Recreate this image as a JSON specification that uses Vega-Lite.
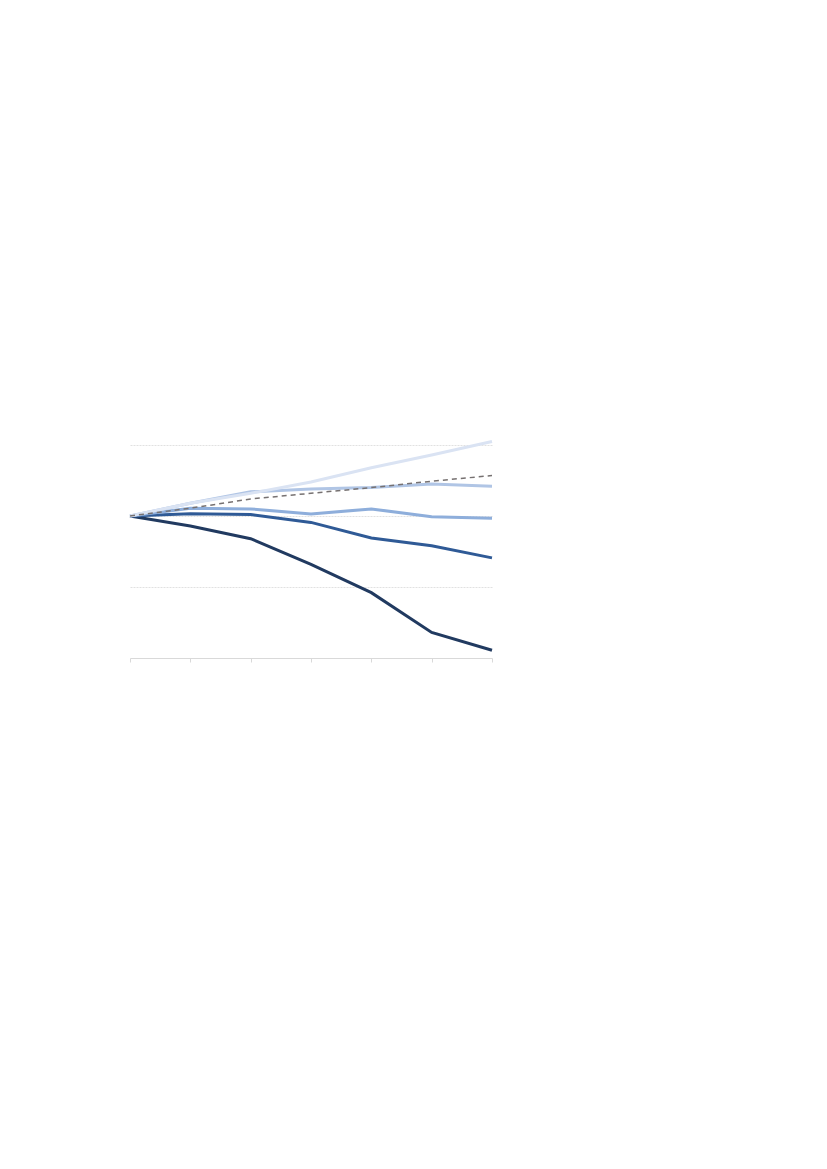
{
  "$schema": "https://vega.github.io/schema/vega-lite/v6.json",
  "width": 362,
  "height": 213,
  "autosize": {"type": "none"},
  "padding": {"left": 130, "top": 445, "right": 335, "bottom": 511},
  "background": "white",
  "config": {"view": {"stroke": null}},
  "data": {
    "values": [
      {"x": 0, "series": "s1", "v": 100}, {"x": 1, "series": "s1", "v": 98.6}, {"x": 2, "series": "s1", "v": 96.8}, {"x": 3, "series": "s1", "v": 93.2}, {"x": 4, "series": "s1", "v": 89.2}, {"x": 5, "series": "s1", "v": 83.6}, {"x": 6, "series": "s1", "v": 81.1},
      {"x": 0, "series": "s2", "v": 100}, {"x": 1, "series": "s2", "v": 100.3}, {"x": 2, "series": "s2", "v": 100.2}, {"x": 3, "series": "s2", "v": 99.1}, {"x": 4, "series": "s2", "v": 96.9}, {"x": 5, "series": "s2", "v": 95.8}, {"x": 6, "series": "s2", "v": 94.1},
      {"x": 0, "series": "s3", "v": 100}, {"x": 1, "series": "s3", "v": 101.1}, {"x": 2, "series": "s3", "v": 101.0}, {"x": 3, "series": "s3", "v": 100.3}, {"x": 4, "series": "s3", "v": 101.0}, {"x": 5, "series": "s3", "v": 99.9}, {"x": 6, "series": "s3", "v": 99.7},
      {"x": 0, "series": "s4", "v": 100}, {"x": 1, "series": "s4", "v": 101.8}, {"x": 2, "series": "s4", "v": 103.4}, {"x": 3, "series": "s4", "v": 103.8}, {"x": 4, "series": "s4", "v": 104.0}, {"x": 5, "series": "s4", "v": 104.5}, {"x": 6, "series": "s4", "v": 104.2},
      {"x": 0, "series": "s5", "v": 100}, {"x": 1, "series": "s5", "v": 101.8}, {"x": 2, "series": "s5", "v": 103.2}, {"x": 3, "series": "s5", "v": 104.8}, {"x": 4, "series": "s5", "v": 106.8}, {"x": 5, "series": "s5", "v": 108.6}, {"x": 6, "series": "s5", "v": 110.5},
      {"x": 0, "series": "avg", "v": 100}, {"x": 1, "series": "avg", "v": 101.1}, {"x": 2, "series": "avg", "v": 102.4}, {"x": 3, "series": "avg", "v": 103.2}, {"x": 4, "series": "avg", "v": 104.0}, {"x": 5, "series": "avg", "v": 104.9}, {"x": 6, "series": "avg", "v": 105.7}
    ]
  },
  "encoding": {
    "x": {
      "field": "x",
      "type": "quantitative",
      "scale": {"domain": [0, 6], "nice": false, "zero": false},
      "axis": {
        "title": null,
        "labels": false,
        "grid": false,
        "values": [0, 1, 2, 3, 4, 5, 6],
        "domainColor": "#d9d9d9",
        "tickColor": "#d9d9d9",
        "tickSize": 4,
        "domainWidth": 1
      }
    },
    "y": {
      "field": "v",
      "type": "quantitative",
      "scale": {"domain": [80, 110], "nice": false, "zero": false},
      "axis": {
        "title": null,
        "labels": false,
        "ticks": false,
        "domain": false,
        "values": [90, 100, 110],
        "gridColor": "#d9d9d9",
        "gridDash": [2, 1],
        "gridWidth": 0.8
      }
    }
  },
  "layer": [
    {
      "transform": [{"filter": "datum.series != 'avg'"}],
      "mark": {"type": "line", "strokeWidth": 3, "clip": false},
      "encoding": {
        "color": {
          "field": "series",
          "type": "nominal",
          "scale": {
            "domain": ["s1", "s2", "s3", "s4", "s5"],
            "range": ["#213a60", "#2f5a96", "#8eaedb", "#b0c5e5", "#dae3f3"]
          },
          "legend": null
        }
      }
    },
    {
      "transform": [{"filter": "datum.series == 'avg'"}],
      "mark": {"type": "line", "strokeWidth": 1.5, "color": "#767171", "strokeDash": [5, 4], "clip": false},
      "encoding": {}
    }
  ]
}
